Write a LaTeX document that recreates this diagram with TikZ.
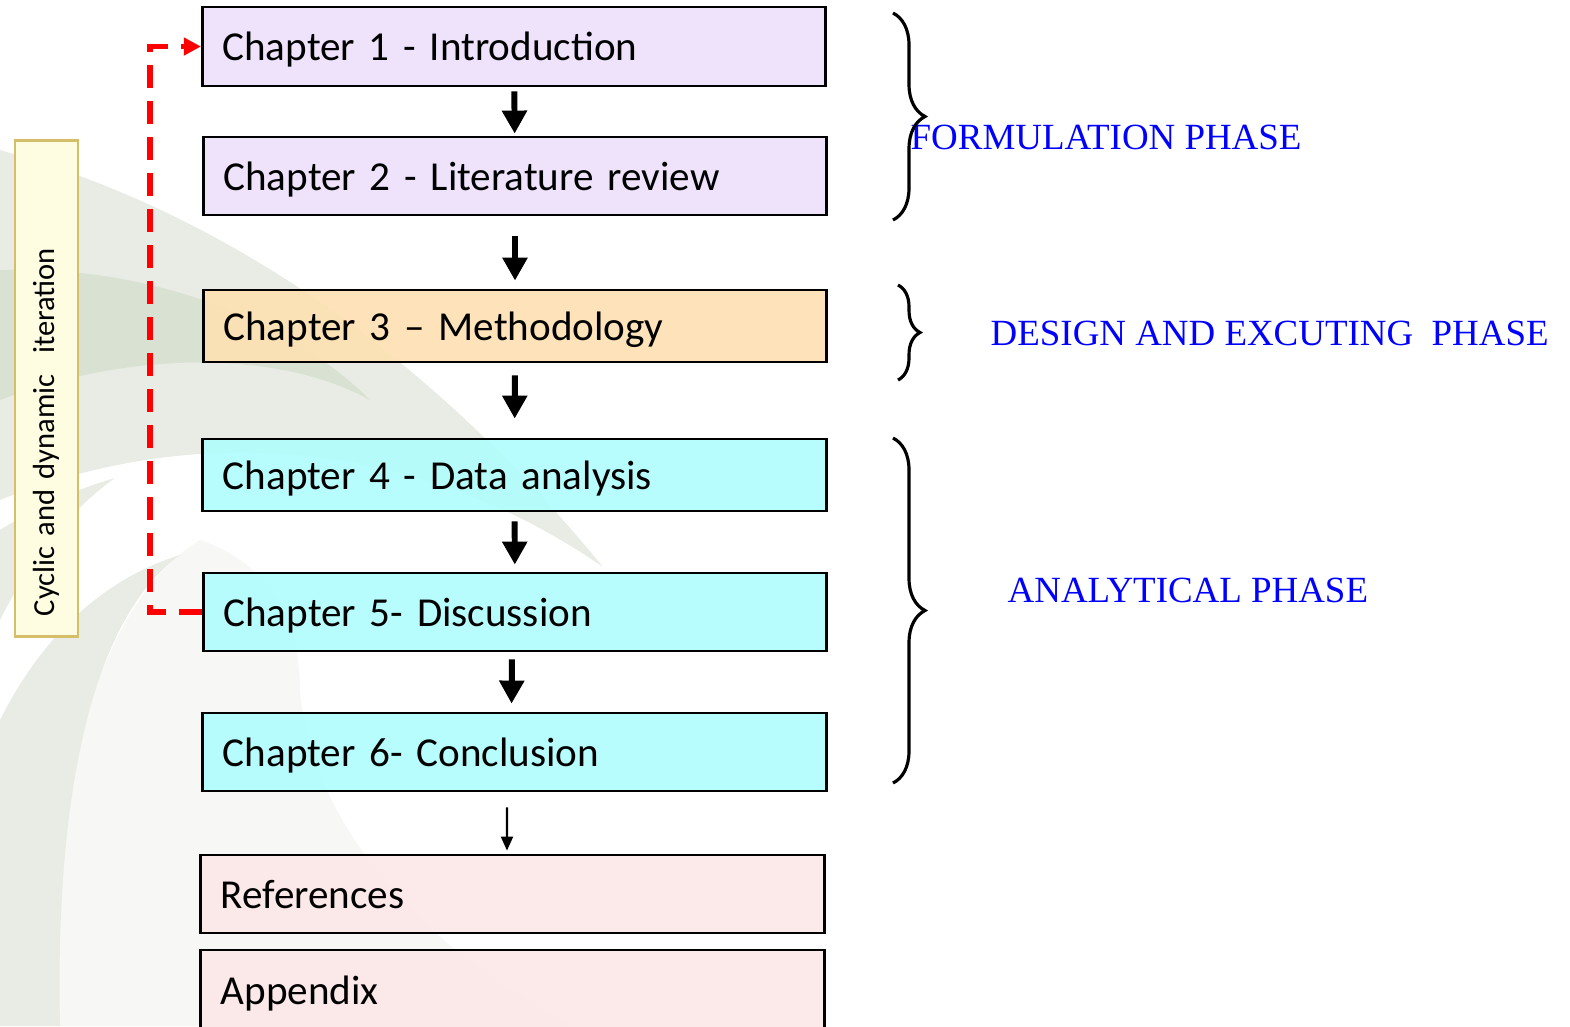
\documentclass[tikz,border=0pt]{standalone}
\usepackage{fontspec}
\setmainfont{Carlito}
\newfontfamily\phasefont{Liberation Serif}
\usetikzlibrary{arrows.meta,decorations.pathreplacing,positioning}

\definecolor{lilac}{HTML}{EDE0FC}
\definecolor{peach}{HTML}{FEE0B2}
\definecolor{aqua}{HTML}{B0FDFD}
\definecolor{blush}{HTML}{FCE8E8}
\definecolor{cream}{HTML}{FEFDE2}
\definecolor{straw}{HTML}{D4BE68}
\definecolor{sage}{HTML}{E8ECE4}
\definecolor{sagedark}{HTML}{D9E1D2}
\definecolor{mist}{HTML}{F7F7F6}
\definecolor{fern}{HTML}{93AB7E}

\tikzset{
  chapter/.style={rectangle, draw, line width=0.8pt, fill opacity=0.9, text opacity=1, text width=5.83cm, inner xsep=0.2cm, align=left, text height=0.37cm, text depth=0.085cm, font=\fontsize{11.7}{14}\selectfont},
  cyclebox/.style={rectangle, draw=straw, fill=cream, line width=0.8pt, rotate=90, minimum height=0.63cm, text width=4.55cm, inner xsep=0.2cm, align=left, font=\fontsize{8.7}{11}\selectfont},
  flow/.style={-{Triangle[length=0.23cm,width=0.24cm]}, line width=1.7pt},
  thinflow/.style={-{Triangle[length=0.14cm,width=0.12cm]}, line width=0.6pt},
  loopback/.style={red, line width=1.6pt, dash pattern=on 0.23cm off 0.13cm, -{Triangle[length=0.17cm,width=0.17cm]}},
  phase/.style={blue, anchor=west, inner sep=0pt, font=\phasefont\fontsize{10.5}{12}\selectfont},
  bracket/.style={decorate, decoration={brace, amplitude=0.32cm}, line width=0.9pt},
}

\begin{document}
\begin{tikzpicture}[x=0.01cm, y=-0.01cm]
  \useasboundingbox (0,0) rectangle (1570,1026);
  % Background
  \fill[sage] (0,150) .. controls (250,220) and (450,380) .. (603,567) .. controls (420,440) and (200,420) .. (0,500) -- cycle;
  \fill[sagedark] (0,270) .. controls (150,265) and (290,320) .. (370,400) .. controls (280,350) and (130,350) .. (0,400) -- cycle;
  \fill[sage] (0,530) .. controls (40,505) and (80,488) .. (115,478) .. controls (70,510) and (30,560) .. (0,620) -- cycle;
  \fill[mist] (60,1026) .. controls (40,800) and (100,600) .. (200,540) .. controls (260,560) and (300,610) .. (300,690) .. controls (310,820) and (420,950) .. (575,1026) -- cycle;
  \fill[sage] (0,720) .. controls (40,640) and (100,580) .. (180,555) .. controls (90,620) and (55,800) .. (60,1026) -- (0,1026) -- cycle;
  \shade[left color=white, middle color=fern, right color=white] (618,943) .. controls (800,1000) and (1250,1000) .. (1570,880) -- (1570,900) .. controls (1250,1012) and (800,1008) .. (618,943) -- cycle;
  % Nodes
  \node (intro) [chapter, fill=lilac, minimum height=0.79cm] at (514, 46.5) {Chapter 1 - Introduction};
  \node (litreview) [chapter, fill=lilac, minimum height=0.78cm] at (515, 176) {Chapter 2 - Literature review};
  \node (method) [chapter, fill=peach, minimum height=0.72cm] at (515, 326) {Chapter 3 -- Methodology};
  \node (analysis) [chapter, fill=aqua, minimum height=0.72cm] at (514.5, 475) {Chapter 4 - Data analysis};
  \node (discussion) [chapter, fill=aqua, minimum height=0.78cm] at (515, 612) {Chapter 5- Discussion};
  \node (conclusion) [chapter, fill=aqua, minimum height=0.78cm] at (514.5, 752) {Chapter 6- Conclusion};
  \node (references) [chapter, fill=blush, minimum height=0.78cm] at (512.5, 894) {References};
  \node (appendix) [chapter, fill=blush, minimum height=0.8cm] at (512.5, 990) {Appendix};
  \node (cycle) [cyclebox] at (46.5, 388.5) {Cyclic and dynamic\ \ iteration};
  \node (formulation) [phase] at (910, 137) {FORMULATION PHASE};
  \node (design) [phase] at (990, 333) {DESIGN AND EXCUTING\ \ PHASE};
  \node (analytical) [phase] at (1007, 590) {ANALYTICAL PHASE};
  % Braces
  \coordinate (formtop) at (893, 13);
  \coordinate (formbot) at (893, 220);
  \coordinate (designtop) at (898, 285);
  \coordinate (designbot) at (898, 380);
  \coordinate (analtop) at (893, 438);
  \coordinate (analbot) at (893, 783);
  \draw[bracket] (formtop) -- (formbot);
  \draw[bracket, decoration={amplitude=0.22cm}] (designtop) -- (designbot);
  \draw[bracket] (analtop) -- (analbot);
  % Arrow
  \draw[flow, shorten <=0.04cm, shorten >=0.02cm] (intro) -- (litreview);
  \draw[flow, shorten <=0.2cm, shorten >=0.08cm] (litreview) -- (method);
  \draw[flow, shorten <=0.12cm, shorten >=0.19cm] (method) -- (analysis);
  \draw[flow, shorten <=0.09cm, shorten >=0.07cm] (analysis) -- (discussion);
  \draw[flow, shorten <=0.07cm, shorten >=0.08cm] ([xshift=-0.03cm]discussion.south) -- ([xshift=-0.03cm]conclusion.north);
  \draw[thinflow, shorten <=0.15cm, shorten >=0.03cm] ([xshift=-0.075cm]conclusion.south) -- ([xshift=-0.055cm]references.north);
  \draw[loopback] (discussion.west) -- ++(-52,0) |- (intro.west);
\end{tikzpicture}
\end{document}
